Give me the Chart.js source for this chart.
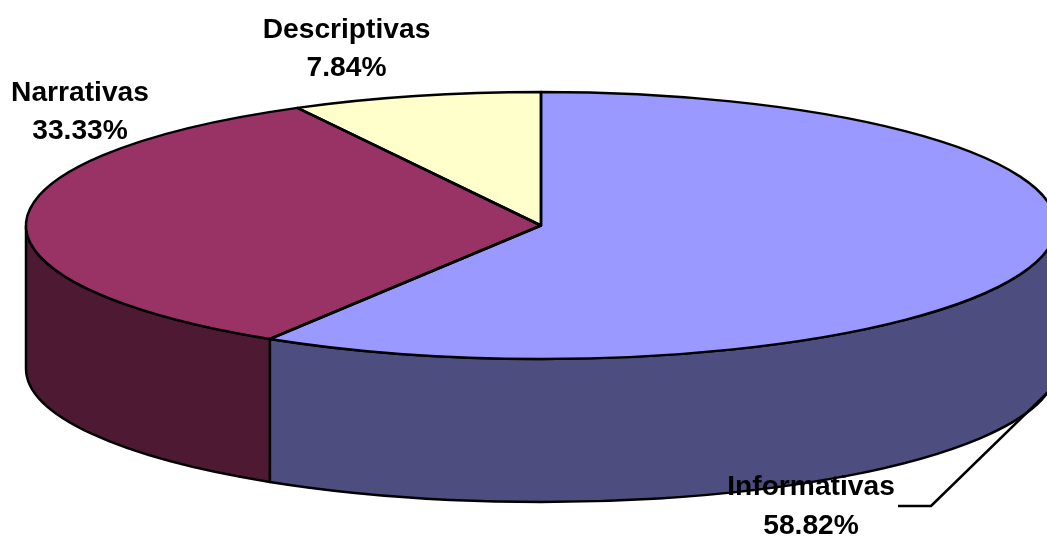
<!DOCTYPE html>
<html><head><meta charset="utf-8">
<style>html,body{margin:0;padding:0;background:#fff;overflow:hidden}canvas{display:block}</style>
<script src="https://cdn.jsdelivr.net/npm/chart.js@4"></script>
</head><body><canvas id="c" width="1047" height="537"></canvas>
<script>
const categories = ['Informativas','Narrativas','Descriptivas'];
const values = [58.82,33.33,7.84];
const valueLabels = ['58.82%','33.33%','7.84%'];
const topColors = ['#9999FF','#993366','#FFFFCC'];
const wallColors = ['#4D4D80','#4D1933','#808066'];
const labelX = [811,80,346.5];
const labelY = [495,100.5,37.5];
const CX=541, CY=225.5, RX=515, RY=133.5, DEPTH=143, LW=2.5;

function applyT(ctx,el){
  const k=el.outerRadius;
  ctx.translate(CX,CY); ctx.scale(RX/k,RY/k); ctx.translate(-el.x,-el.y);
}
const pie3d = {
  id:'pie3d',
  beforeDatasetsDraw(chart){
    const ctx=chart.ctx, arcs=chart.getDatasetMeta(0).data;
    arcs.forEach((el,i)=>{
      let a0=Math.max(el.startAngle,0), a1=Math.min(el.endAngle,Math.PI);
      if(a1<=a0) return;
      ctx.save();
      ctx.beginPath();
      ctx.ellipse(CX,CY,RX,RY,0,a0,a1,false);
      ctx.ellipse(CX,CY+DEPTH,RX,RY,0,a1,a0,true);
      ctx.closePath();
      ctx.fillStyle=wallColors[i]; ctx.fill();
      ctx.strokeStyle='#000'; ctx.lineWidth=LW; ctx.lineJoin='round'; ctx.stroke();
      ctx.restore();
    });
    ctx.save();
    applyT(ctx,arcs[0]);
  },
  afterDatasetsDraw(chart){
    const ctx=chart.ctx, arcs=chart.getDatasetMeta(0).data;
    ctx.restore();
    ctx.save();
    ctx.strokeStyle='#000'; ctx.lineWidth=LW; ctx.lineJoin='round';
    arcs.forEach(el=>{
      ctx.beginPath();
      ctx.moveTo(CX,CY);
      ctx.ellipse(CX,CY,RX,RY,0,el.startAngle,el.endAngle,false);
      ctx.closePath();
      ctx.stroke();
    });
    ctx.beginPath();
    ctx.moveTo(898,506); ctx.lineTo(931,506); ctx.lineTo(1049,391);
    ctx.stroke();
    ctx.fillStyle='#000'; ctx.textAlign='center'; ctx.textBaseline='alphabetic';
    ctx.font='bold 28.2px "Liberation Sans", Arial, sans-serif';
    categories.forEach((n,i)=>{
      ctx.fillText(n,labelX[i],labelY[i]);
      ctx.fillText(valueLabels[i],labelX[i],labelY[i]+38.5);
    });
    ctx.restore();
  }
};
new Chart(document.getElementById('c'),{
  type:'pie',
  data:{labels:categories,datasets:[{data:values,backgroundColor:topColors,borderWidth:0,hoverOffset:0}]},
  options:{responsive:false,animation:false,layout:{padding:0},
    plugins:{legend:{display:false},tooltip:{enabled:false},title:{display:false}}},
  plugins:[pie3d]
});
</script></body></html>
